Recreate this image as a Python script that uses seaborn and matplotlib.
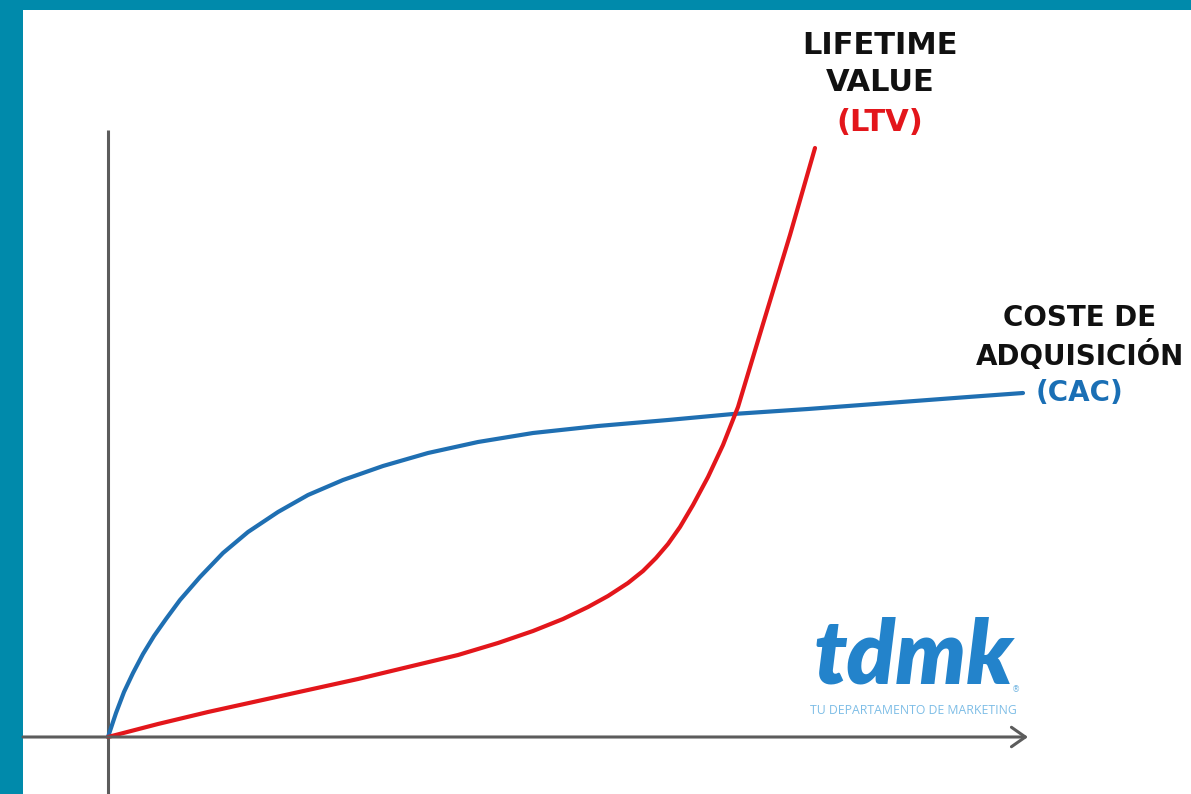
import matplotlib
matplotlib.use("Agg")
import matplotlib.pyplot as plt
import seaborn as sns
import pandas as pd

# curve readings (x = time, y = value, origin at 0,0)
cac_x = [0, 8, 16, 25, 35, 46, 58, 72, 92, 115, 140, 170, 200, 235, 275, 320, 370,
         425, 490, 560, 625, 700, 780, 860, 915]
cac_y = [0, 24, 45, 64, 83, 101, 118, 137, 160, 184, 205, 225, 242, 257, 271, 284, 295,
         304, 311, 317, 323, 328, 334, 340, 344]

ltv_x = [0, 50, 100, 150, 200, 250, 300, 350, 390, 425, 455, 480, 500, 520, 535, 548,
         560, 572, 585, 600, 615, 630, 655, 682, 707]
ltv_y = [0, 13, 25, 36, 47, 58, 70, 82, 94, 106, 118, 130, 141, 154, 166, 179,
         193, 210, 232, 260, 292, 330, 413, 502, 589]

series_names = ["CAC", "LTV"]
series_colors = ["#1f6fb2", "#e3161b"]

ltv_label = ["LIFETIME", "VALUE", "(LTV)"]
cac_label = ["COSTE DE", "ADQUISICIÓN", "(CAC)"]
logo_text = "tdmk"
logo_sub = "TU DEPARTAMENTO DE MARKETING"

df = pd.concat([
    pd.DataFrame({"x": cac_x, "y": cac_y, "serie": series_names[0]}),
    pd.DataFrame({"x": ltv_x, "y": ltv_y, "serie": series_names[1]}),
], ignore_index=True)

sns.set_style("white")
plt.rcParams["font.family"] = ["DejaVu Sans"]

fig = plt.figure(figsize=(11.91, 7.94), dpi=100)
fig.patch.set_facecolor("#008aab")
ax = fig.add_axes([23 / 1191, 0, 1 - 23 / 1191, 1 - 10 / 794])
ax.set_facecolor("white")
ax.set_xlim(-85, 1083)
ax.set_ylim(-57, 727)
ax.set_xticks([])
ax.set_yticks([])
for s in ax.spines.values():
    s.set_visible(False)

axis_col = "#5c5c5c"
# axes
ax.plot([0, 0], [-57, 607], color=axis_col, lw=2.2, solid_capstyle="butt")
ax.annotate("", xy=(920, 0), xytext=(-85, 0),
            arrowprops=dict(arrowstyle="->,head_length=1.0,head_width=0.7",
                            lw=2.2, color=axis_col, shrinkA=0, shrinkB=0))

sns.lineplot(data=df, x="x", y="y", hue="serie", palette=series_colors,
             sort=False, estimator=None, legend=False, linewidth=3.0, ax=ax)
ax.set_xlabel("")
ax.set_ylabel("")

# labels
kw = dict(ha="center", va="center", fontweight="bold")
ax.text(772, 692, ltv_label[0], color="#111111", fontsize=22, **kw)
ax.text(772, 655, ltv_label[1], color="#111111", fontsize=22, **kw)
ax.text(772, 615, ltv_label[2], color="#e3161b", fontsize=22, **kw)

ax.text(972, 419, cac_label[0], color="#111111", fontsize=20, **kw)
ax.text(972, 382, cac_label[1], color="#111111", fontsize=20, **kw)
ax.text(972, 344, cac_label[2], color="#1a6fb5", fontsize=20, **kw)

# logo
ax.text(806, 79, logo_text, ha="center", va="center", fontsize=64, fontweight="heavy",
        style="italic", color="#2383cb", family=["Lato", "DejaVu Sans"])
ax.text(908, 47, "®", ha="center", va="center", fontsize=6, color="#6fb3e0")
ax.text(805, 27, logo_sub, ha="center", va="center", fontsize=8.8, color="#7dbde6",
        family=["Open Sans", "DejaVu Sans"])

fig.savefig("out.png", dpi=100, facecolor=fig.get_facecolor())
